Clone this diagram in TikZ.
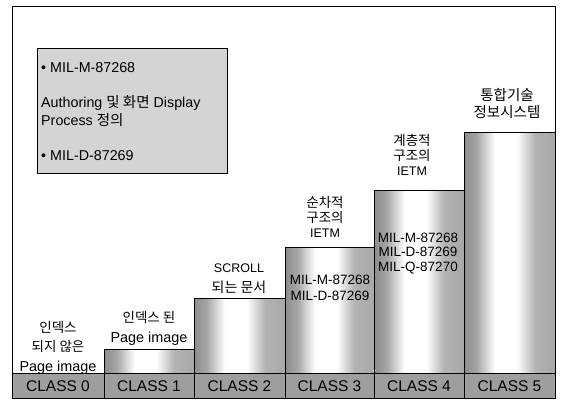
\documentclass[tikz,border=0pt]{standalone}
\usepackage{fontspec}
\setmainfont{Liberation Sans}
\newfontfamily\ko{Noto Sans CJK KR}
\begin{document}
\pgfdeclarehorizontalshading{barshade}{100bp}{color(0bp)=(black!45); color(25bp)=(black!45); color(32bp)=(black!35); color(42bp)=(white); color(54bp)=(white); color(64bp)=(black!30); color(75bp)=(black!34); color(100bp)=(black!34)}
\begin{tikzpicture}[x=1pt,y=-1pt,
  frameline/.style={draw=black,line width=0.9pt},
  bar/.style={draw=black,line width=0.8pt,shading=barshade},
  classrow/.style={draw=black,line width=0.8pt,fill=black!38},
  txt/.style={font=\fontsize{#1}{#1}\selectfont,anchor=base,inner sep=0pt},
  ltxt/.style={font=\fontsize{#1}{#1}\selectfont,anchor=base west,inner sep=0pt}]
\useasboundingbox (0,0) rectangle (564,404);
\fill[white] (0,0) rectangle (564,404);
% outer frame
\draw[frameline] (12,398) -- (12,6) -- (555,6) -- (555,133);
% bars
\path[bar] (104,349) rectangle (194,373);
\path[bar] (194,298) rectangle (285,373);
\path[bar] (285,247) rectangle (374,373);
\path[bar] (374,190) rectangle (464,373);
\path[bar] (464,132) rectangle (555,373);
% class row
\foreach \a/\b/\n in {12/104/0,104/194/1,194/285/2,285/374/3,374/464/4,464/555/5}{
  \path[classrow] (\a,373) rectangle (\b,398);
  \node[txt=15.5] (c\n) at ({(\a+\b)/2},391.5) {CLASS \n};
}
% legend
\path[draw=black,line width=0.8pt,fill=black!17] (37,48) rectangle (227,173);
\node[ltxt=14.3] (l1) at (41,72) {• MIL-M-87268};
\node[ltxt=14.3] (l2) at (41,107) {Authoring {\ko\fontsize{14.5}{14.5}\selectfont 및 화면} Display};
\node[ltxt=14.3] (l3) at (41,125) {Process {\ko\fontsize{14.5}{14.5}\selectfont 정의}};
\node[ltxt=14.3] (l4) at (41,160) {• MIL-D-87269};
% labels above bars
\node[txt=13.5] (t0a) at (58,332.7) {\ko 인덱스};
\node[txt=13.5] (t0b) at (58,351.7) {\ko 되지 않은};
\node[txt=14.4] (t0c) at (58,371.2) {Page image};
\node[txt=13.5] (t1a) at (149,322.7) {\ko 인덱스 된};
\node[txt=14.4] (t1b) at (149,342.2) {Page image};
\node[txt=12.5] (t2a) at (239,272.5) {SCROLL};
\node[txt=14] (t2b) at (239,292) {\ko 되는 문서};
\node[txt=13.5] (t3a) at (325,207.7) {\ko 순차적};
\node[txt=13.5] (t3b) at (325,222.7) {\ko 구조의};
\node[txt=12.5] (t3c) at (325,237.5) {IETM};
\node[txt=13.5] (t4a) at (412,145.7) {\ko 계층적};
\node[txt=13.5] (t4b) at (412,160.7) {\ko 구조의};
\node[txt=12.5] (t4c) at (412,175.5) {IETM};
\node[txt=14.5] (t5a) at (507,100) {\ko 통합기술};
\node[txt=14.5] (t5b) at (507,117) {\ko 정보시스템};
% labels inside bars
\node[txt=13.5] (i3a) at (330,284) {MIL-M-87268};
\node[txt=13.5] (i3b) at (330,300) {MIL-D-87269};
\node[txt=13.5] (i4a) at (418,242) {MIL-M-87268};
\node[txt=13.5] (i4b) at (418,256) {MIL-D-87269};
\node[txt=13.5] (i4c) at (418,271) {MIL-Q-87270};
\end{tikzpicture}
\end{document}
